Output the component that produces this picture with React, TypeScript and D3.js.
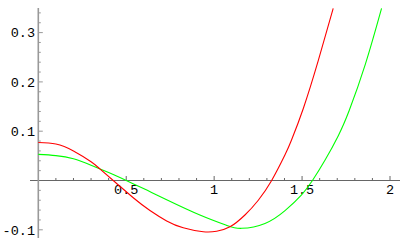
import React from "react";
import * as d3 from "d3";

// curve samples
const redX = [0, 0.1, 0.2, 0.3, 0.35, 0.436, 0.54, 0.635, 0.73, 0.824, 0.938, 1.014, 1.09, 1.175, 1.251, 1.327, 1.403, 1.44, 1.507, 1.592, 1.677];
const redY = [0.077, 0.074, 0.06, 0.038, 0.0235, -0.003, -0.035, -0.061, -0.082, -0.096, -0.104, -0.103, -0.094, -0.07, -0.04, 0, 0.052, 0.082, 0.146, 0.243, 0.349];

const greenX = [0, 0.1, 0.2, 0.3, 0.4, 0.506, 0.62, 0.73, 0.919, 1.071, 1.156, 1.289, 1.403, 1.497, 1.559, 1.63, 1.706, 1.768, 1.86, 1.952];
const greenY = [0.053, 0.0505, 0.044, 0.031, 0.016, -0.001, -0.02, -0.039, -0.07, -0.091, -0.097, -0.087, -0.061, -0.029, 0, 0.041, 0.091, 0.142, 0.236, 0.349];

const xTicks = [0.5, 1, 1.5, 2];
const xTickLabels = ["0.5", "1", "1.5", "2"];
const yTicks = [-0.1, 0.1, 0.2, 0.3];
const yTickLabels = ["-0.1", "0.1", "0.2", "0.3"];

function App() {
  const width = 400;
  const height = 247;

  const x = d3.scaleLinear().domain([0, 2]).range([38.3, 390]);
  const y = d3.scaleLinear().domain([-0.1, 0.3]).range([229.8, 32.6]);

  const line = d3
    .line<[number, number]>()
    .x((d) => x(d[0]))
    .y((d) => y(d[1]))
    .curve(d3.curveNatural);

  const red = redX.map((v, i) => [v, redY[i]] as [number, number]);
  const green = greenX.map((v, i) => [v, greenY[i]] as [number, number]);

  const minorX = d3.range(1, 21).map((i) => i / 10).filter((v) => !xTicks.some((t) => Math.abs(t - v) < 1e-6));
  const minorY = d3.range(-5, 18).map((i) => i / 50).filter((v) => v !== 0 && !yTicks.some((t) => Math.abs(t - v) < 1e-6));

  const x0 = x(0);
  const y0 = y(0);
  const font = "'Liberation Mono', 'DejaVu Sans Mono', monospace";

  return (
    <svg
      width={width}
      height={height}
      style={{ position: "absolute", left: 0, top: 0, background: "white" }}
    >
      {/* axes */}
      <line x1={30} y1={y0} x2={400} y2={y0} stroke="#666" strokeWidth={1} />
      <line x1={x0} y1={8} x2={x0} y2={238} stroke="#999" strokeWidth={1.6} />

      {minorX.map((v, i) => (
        <line key={"mx" + i} x1={x(v)} y1={y0} x2={x(v)} y2={y0 - 2.5} stroke="#666" />
      ))}
      {xTicks.map((v, i) => (
        <g key={"x" + i}>
          <line x1={x(v)} y1={y0} x2={x(v)} y2={y0 - 4.5} stroke="#666" />
          <text
            x={x(v)}
            y={194}
            textAnchor="middle"
            fontFamily={font}
            fontSize={13.5}
            fill="#000"
          >
            {xTickLabels[i]}
          </text>
        </g>
      ))}

      {minorY.map((v, i) => (
        <line key={"my" + i} x1={x0} y1={y(v)} x2={x0 + 2.5} y2={y(v)} stroke="#999" />
      ))}
      {yTicks.map((v, i) => (
        <g key={"y" + i}>
          <line x1={x0} y1={y(v)} x2={x0 + 4.5} y2={y(v)} stroke="#999" />
          <text
            x={35}
            y={y(v)}
            dy="0.35em"
            textAnchor="end"
            fontFamily={font}
            fontSize={13.5}
            fill="#000"
          >
            {yTickLabels[i]}
          </text>
        </g>
      ))}

      {/* curves */}
      <path d={line(green) ?? ""} fill="none" stroke="#00ff00" strokeWidth={1.1} />
      <path d={line(red) ?? ""} fill="none" stroke="#ff0000" strokeWidth={1.1} />
    </svg>
  );
}

export default App;
